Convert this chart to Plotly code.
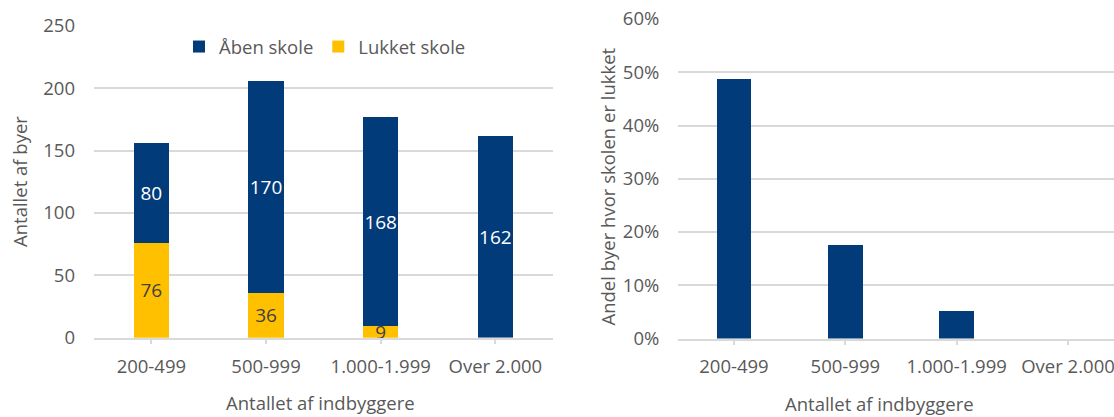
import plotly.graph_objects as go

categories = ["200-499", "500-999", "1.000-1.999", "Over 2.000"]
aaben = [80, 170, 168, 162]
lukket = [76, 36, 9, 0]
andel_lukket = [48.7, 17.5, 5.1, 0.0]
left_yticks = [0, 50, 100, 150, 200, 250]
right_yticks = [0, 10, 20, 30, 40, 50, 60]

BLUE = "#023B7A"
YELLOW = "#FFC000"
GRID = "#D9D9D9"
TXT = "#595959"
FONT = "Open Sans"
FS = 18.5
W, H = 1114, 417

fig = go.Figure()

fig.add_trace(go.Bar(
    x=categories, y=lukket, name="Lukket skole", marker=dict(color=YELLOW, line=dict(width=0)),
    text=[str(v) if v else "" for v in lukket], textposition="inside", insidetextanchor="middle",
    textangle=0, constraintext="none", textfont=dict(color="#404040", size=19, family=FONT),
    width=0.31, xaxis="x", yaxis="y", hoverinfo="skip", cliponaxis=False,
))
fig.add_trace(go.Bar(
    x=categories, y=aaben, name="Åben skole", marker=dict(color=BLUE, line=dict(width=0)),
    text=[str(v) for v in aaben], textposition="inside", insidetextanchor="middle",
    textangle=0, constraintext="none", textfont=dict(color="white", size=19, family=FONT),
    width=0.31, xaxis="x", yaxis="y", hoverinfo="skip",
))
fig.add_trace(go.Bar(
    x=categories, y=andel_lukket, name="Andel", marker=dict(color=BLUE, line=dict(width=0)),
    width=0.31, xaxis="x2", yaxis="y2", showlegend=False, hoverinfo="skip",
))

xl0, xl1 = 94 / W, 552.7 / W
xr0 = 678.3 / W
yl0, yl1 = (H - 337.7) / H, (H - 25.7) / H
yr0, yr1 = (H - 338.5) / H, (H - 19) / H

axis_common = dict(
    tickfont=dict(family=FONT, size=FS, color=TXT),
    showline=True, linecolor=GRID, linewidth=1.5,
    ticks="outside", ticklen=5, tickwidth=1.5, tickcolor=GRID,
    showgrid=False, zeroline=False, fixedrange=True,
    ticklabelstandoff=6, automargin=False,
)
yaxis_common = dict(
    tickfont=dict(family=FONT, size=FS, color=TXT),
    showgrid=True, gridcolor=GRID, gridwidth=1.5, zeroline=False,
    showline=False, ticks="", fixedrange=True, ticklabelstandoff=18, automargin=False,
)

fig.update_layout(
    width=W, height=H,
    margin=dict(l=0, r=0, t=0, b=0, autoexpand=False),
    paper_bgcolor="white", plot_bgcolor="white",
    barmode="stack",
    font=dict(family=FONT, size=FS, color=TXT),
    xaxis=dict(domain=[xl0, xl1], range=[-0.5, 3.5], anchor="y",
               categoryorder="array", categoryarray=categories, **axis_common),
    yaxis=dict(domain=[yl0, yl1], range=[0, 250], tickvals=left_yticks, anchor="x", **yaxis_common),
    xaxis2=dict(domain=[xr0, 1], range=[-0.5, 3.413], anchor="y2",
                categoryorder="array", categoryarray=categories, **axis_common),
    yaxis2=dict(domain=[yr0, yr1], range=[0, 60], tickvals=right_yticks,
                ticktext=[f"{v}%" for v in right_yticks], anchor="x2", **yaxis_common),
    legend=dict(orientation="h", x=325 / W, xanchor="center", y=(H - 47) / H, yanchor="middle",
                traceorder="reversed", font=dict(family=FONT, size=FS, color=TXT),
                bgcolor="rgba(0,0,0,0)", itemclick=False, itemdoubleclick=False),
    showlegend=True,
    annotations=[
        dict(text="Antallet af byer", x=19.5 / W, y=(H - 181.5) / H, xref="paper", yref="paper",
             textangle=-90, showarrow=False, xanchor="center", yanchor="middle",
             font=dict(family=FONT, size=FS, color=TXT)),
        dict(text="Antallet af indbyggere", x=320 / W, y=(H - 402) / H, xref="paper", yref="paper",
             showarrow=False, xanchor="center", yanchor="middle",
             font=dict(family=FONT, size=FS, color=TXT)),
        dict(text="Andel byer hvor skolen er lukket", x=606.5 / W, y=(H - 187) / H, xref="paper", yref="paper",
             textangle=-90, showarrow=False, xanchor="center", yanchor="middle",
             font=dict(family=FONT, size=FS, color=TXT)),
        dict(text="Antallet af indbyggere", x=879 / W, y=(H - 403.5) / H, xref="paper", yref="paper",
             showarrow=False, xanchor="center", yanchor="middle",
             font=dict(family=FONT, size=FS, color=TXT)),
    ],
)

fig.write_html(
    "out.html",
    config={"displayModeBar": False, "staticPlot": False},
    post_script="document.body.style.margin='0px';document.body.style.overflow='hidden';",
)
